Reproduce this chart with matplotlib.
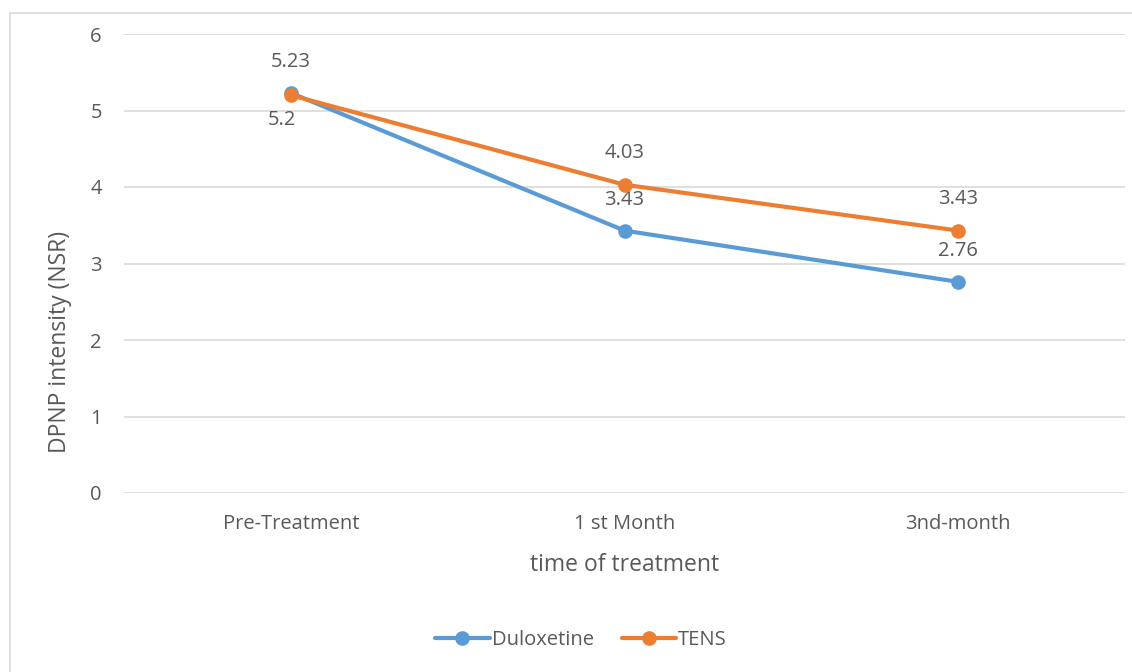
import matplotlib
matplotlib.use('Agg')
import matplotlib.pyplot as plt
from matplotlib.patches import Rectangle

plt.rcParams['font.family'] = ['Open Sans', 'DejaVu Sans']

categories = ['Pre-Treatment', '1 st Month', '3nd-month']
duloxetine = [5.23, 3.43, 2.76]
tens = [5.2, 4.03, 3.43]

blue = '#5b9bd5'
orange = '#ed7d31'
grey = '#595959'

W, H = 1132, 672
fig = plt.figure(figsize=(W / 100, H / 100), dpi=100)
ax = fig.add_axes([124 / W, 1 - 493 / H, (1125 - 124) / W, (493 - 34) / H])

x = list(range(len(categories)))
ax.plot(x, duloxetine, color=blue, lw=3, marker='o', ms=9.5,
        solid_capstyle='round', label='Duloxetine', zorder=3)
ax.plot(x, tens, color=orange, lw=3, marker='o', ms=9.5,
        solid_capstyle='round', label='TENS', zorder=4)

# data labels
for i, v in enumerate(duloxetine):
    ax.annotate(f'{v:g}', (i, v), xytext=(0, 22), textcoords='offset points',
                ha='center', va='center', fontsize=14.5, color=grey)
for i, v in enumerate(tens):
    off = (-6.5, -18) if i == 0 else (0, 22.5)
    ax.annotate(f'{v:g}', (i, v), xytext=off, textcoords='offset points',
                ha='center', va='center', fontsize=14.5, color=grey)

ax.set_xlim(-0.5, 2.5)
ax.set_ylim(0, 6)
ax.set_yticks(range(7))
ax.set_xticks(x)
ax.set_xticklabels(categories)
ax.grid(axis='y', color='#d9d9d9', lw=1.2)
ax.set_axisbelow(True)
for s in ax.spines.values():
    s.set_visible(False)
ax.tick_params(length=0, labelsize=14.5, labelcolor=grey)
ax.tick_params(axis='x', pad=15)
ax.tick_params(axis='y', pad=16)

ax.set_xlabel('time of treatment', fontsize=16.5, color=grey, labelpad=14)
ax.set_ylabel('DPNP intensity (NSR)', fontsize=16.5, color=grey)
ax.yaxis.set_label_coords(-52 / (1125 - 124), (493 - 342) / (493 - 34))

fig.legend(loc='center', bbox_to_anchor=(581 / W, 1 - 640 / H), ncol=2,
           frameon=False, fontsize=14.5, labelcolor=grey, handlelength=2.7,
           handletextpad=0.1, columnspacing=1.4)

fig.patches.append(Rectangle((10 / W, -0.1), 1.2, 1.1 - 13 / H,
                             transform=fig.transFigure, fill=False,
                             ec='#d9d9d9', lw=1.2))

fig.savefig('out.png', dpi=100)
